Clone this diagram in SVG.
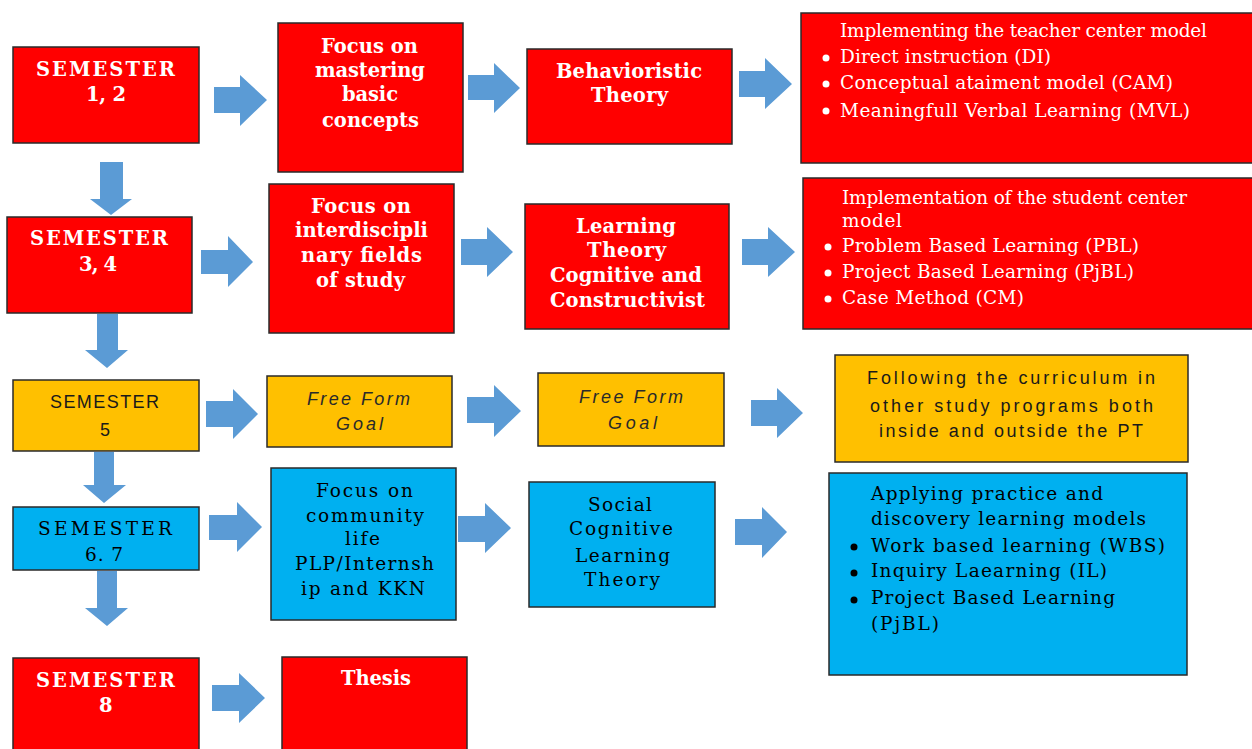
<svg xmlns="http://www.w3.org/2000/svg" width="1252" height="749" viewBox="0 0 1252 749">
<style>
.red{fill:#FF0000;stroke:#2a2a2a;stroke-width:1.5}
.yel{fill:#FFC000;stroke:#2a2a2a;stroke-width:1.5}
.blu{fill:#00B0F0;stroke:#2a2a2a;stroke-width:1.5}
.arr{fill:#5B9BD5}
.tb{font-family:"DejaVu Serif","Liberation Serif",serif;font-size:19.5px;font-weight:bold;fill:#FFFFFF}
.tw{font-family:"DejaVu Serif","Liberation Serif",serif;font-size:18.5px;fill:#FFFFFF}
.tk{font-family:"DejaVu Serif","Liberation Serif",serif;font-size:18.5px;fill:#000000}
.ty{font-family:"Liberation Sans","Open Sans",sans-serif;font-size:18px;fill:#1a1a1a}
.ti{font-family:"Liberation Sans","Open Sans",sans-serif;font-size:18px;font-style:italic;fill:#2a2a2a}
.bw{fill:#FFFFFF}
.bk{fill:#000000}
</style>
<rect width="1252" height="749" fill="#FFFFFF"/>

<g id="connectors">
<polygon class="arr" points="214,87 240,87 240,75 267,100 240,126 240,113 214,113"/>
<polygon class="arr" points="468,75 494,75 494,63 520,88 494,113 494,100 468,100"/>
<polygon class="arr" points="739,71 765,71 765,58 792,84 765,109 765,97 739,97"/>
<polygon class="arr" points="201,250 228,250 228,236 253,262 228,287 228,274 201,274"/>
<polygon class="arr" points="461,239 487,239 487,227 513,252 487,277 487,265 461,265"/>
<polygon class="arr" points="742,239 768,239 768,227 795,252 768,277 768,265 742,265"/>
<polygon class="arr" points="206,401 233,401 233,389 258,414 233,439 233,427 206,427"/>
<polygon class="arr" points="467,397 494,397 494,385 521,411 494,437 494,423 467,423"/>
<polygon class="arr" points="751,400 777,400 777,388 803,413 777,438 777,426 751,426"/>
<polygon class="arr" points="209,515 237,515 237,502 262,527 237,552 237,540 209,540"/>
<polygon class="arr" points="458,516 485,516 485,503 511,528 485,553 485,542 458,542"/>
<polygon class="arr" points="735,519 762,519 762,507 787,532 762,558 762,545 735,545"/>
<polygon class="arr" points="212,685 239,685 239,673 265,698 239,723 239,711 212,711"/>
<polygon class="arr" points="100,162 123,162 123,199 132,199 111,215 90,199 100,199"/>
<polygon class="arr" points="97,314 118,314 118,350 128,350 107,368 85,350 97,350"/>
<polygon class="arr" points="94,452 114,452 114,485 126,485 104,503 83,485 94,485"/>
<polygon class="arr" points="97,571 117,571 117,608 128,608 107,626 85,608 97,608"/>
</g>

<g id="sem12">
<rect class="red" x="13" y="47" width="186" height="96"/>
<text class="tb" x="36" y="76" textLength="139" lengthAdjust="spacing">SEMESTER</text>
<text class="tb" x="86" y="101" textLength="40" lengthAdjust="spacing">1, 2</text>
</g>
<g id="focus-basic">
<rect class="red" x="278" y="23" width="185" height="149"/>
<text class="tb" x="321" y="53" textLength="97" lengthAdjust="spacing">Focus on</text>
<text class="tb" x="315" y="77" textLength="110" lengthAdjust="spacing">mastering</text>
<text class="tb" x="342" y="101" textLength="56" lengthAdjust="spacing">basic</text>
<text class="tb" x="322" y="127" textLength="97" lengthAdjust="spacing">concepts</text>
</g>
<g id="behavioristic">
<rect class="red" x="527" y="49" width="205" height="95"/>
<text class="tb" x="556" y="78" textLength="146" lengthAdjust="spacing">Behavioristic</text>
<text class="tb" x="591" y="102" textLength="77" lengthAdjust="spacing">Theory</text>
</g>
<g id="teacher-center">
<rect class="red" x="801" y="13" width="460" height="150"/>
<text class="tw" x="840" y="37" textLength="367" lengthAdjust="spacing">Implementing the teacher center model</text>
<circle class="bw" cx="826" cy="58" r="3.5"/>
<text class="tw" x="840" y="63" textLength="211" lengthAdjust="spacing">Direct instruction (DI)</text>
<circle class="bw" cx="826" cy="84" r="3.5"/>
<text class="tw" x="840" y="89" textLength="333" lengthAdjust="spacing">Conceptual ataiment model (CAM)</text>
<circle class="bw" cx="826" cy="111" r="3.5"/>
<text class="tw" x="840" y="117" textLength="350" lengthAdjust="spacing">Meaningfull Verbal Learning (MVL)</text>
</g>

<g id="sem34">
<rect class="red" x="7" y="217" width="185" height="96"/>
<text class="tb" x="30" y="245" textLength="138" lengthAdjust="spacing">SEMESTER</text>
<text class="tb" x="79" y="271" textLength="38" lengthAdjust="spacing">3, 4</text>
</g>
<g id="focus-interdisciplinary">
<rect class="red" x="269" y="184" width="185" height="149"/>
<text class="tb" x="311" y="213" textLength="100" lengthAdjust="spacing">Focus on</text>
<text class="tb" x="295" y="237" textLength="133" lengthAdjust="spacing">interdiscipli</text>
<text class="tb" x="301" y="262" textLength="121" lengthAdjust="spacing">nary fields</text>
<text class="tb" x="316" y="287" textLength="89" lengthAdjust="spacing">of study</text>
</g>
<g id="learning-theory">
<rect class="red" x="525" y="204" width="204" height="125"/>
<text class="tb" x="576" y="233" textLength="100" lengthAdjust="spacing">Learning</text>
<text class="tb" x="587" y="257" textLength="79" lengthAdjust="spacing">Theory</text>
<text class="tb" x="550" y="282" textLength="152" lengthAdjust="spacing">Cognitive and</text>
<text class="tb" x="550" y="307" textLength="155" lengthAdjust="spacing">Constructivist</text>
</g>
<g id="student-center">
<rect class="red" x="803" y="178" width="460" height="151"/>
<text class="tw" x="842" y="204" textLength="345" lengthAdjust="spacing">Implementation of the student center</text>
<text class="tw" x="842" y="227" textLength="60" lengthAdjust="spacing">model</text>
<circle class="bw" cx="828" cy="247" r="3.5"/>
<text class="tw" x="842" y="252" textLength="297" lengthAdjust="spacing">Problem Based Learning (PBL)</text>
<circle class="bw" cx="828" cy="273" r="3.5"/>
<text class="tw" x="842" y="278" textLength="292" lengthAdjust="spacing">Project Based Learning (PjBL)</text>
<circle class="bw" cx="828" cy="299" r="3.5"/>
<text class="tw" x="842" y="304" textLength="182" lengthAdjust="spacing">Case Method (CM)</text>
</g>

<g id="sem5">
<rect class="yel" x="13" y="380" width="186" height="71"/>
<text class="ty" x="50" y="408" textLength="109" lengthAdjust="spacing">SEMESTER</text>
<text class="ty" x="100" y="436">5</text>
</g>
<g id="free-form-1">
<rect class="yel" x="267" y="376" width="185" height="71"/>
<text class="ti" x="307" y="405" textLength="103" lengthAdjust="spacing">Free Form</text>
<text class="ti" x="336" y="430" textLength="47" lengthAdjust="spacing">Goal</text>
</g>
<g id="free-form-2">
<rect class="yel" x="538" y="373" width="186" height="73"/>
<text class="ti" x="579" y="403" textLength="104" lengthAdjust="spacing">Free Form</text>
<text class="ti" x="608" y="429" textLength="49" lengthAdjust="spacing">Goal</text>
</g>
<g id="following-curriculum">
<rect class="yel" x="835" y="355" width="353" height="107"/>
<text class="ty" x="867" y="384" textLength="288" lengthAdjust="spacing">Following the curriculum in</text>
<text class="ty" x="870" y="412" textLength="283" lengthAdjust="spacing">other study programs both</text>
<text class="ty" x="879" y="437" textLength="264" lengthAdjust="spacing">inside and outside the PT</text>
</g>

<g id="sem67">
<rect class="blu" x="13" y="507" width="186" height="63"/>
<text class="tk" x="38" y="535" textLength="134" lengthAdjust="spacing">SEMESTER</text>
<text class="tk" x="85" y="561" textLength="38" lengthAdjust="spacing">6. 7</text>
</g>
<g id="focus-community">
<rect class="blu" x="271" y="468" width="185" height="152"/>
<text class="tk" x="316" y="497" textLength="97" lengthAdjust="spacing">Focus on</text>
<text class="tk" x="306" y="522" textLength="118" lengthAdjust="spacing">community</text>
<text class="tk" x="345" y="545" textLength="35" lengthAdjust="spacing">life</text>
<text class="tk" x="295" y="570" textLength="139" lengthAdjust="spacing">PLP/Internsh</text>
<text class="tk" x="301" y="595" textLength="124" lengthAdjust="spacing">ip and KKN</text>
</g>
<g id="social-cognitive">
<rect class="blu" x="529" y="482" width="186" height="125"/>
<text class="tk" x="588" y="511" textLength="64" lengthAdjust="spacing">Social</text>
<text class="tk" x="569" y="535" textLength="104" lengthAdjust="spacing">Cognitive</text>
<text class="tk" x="575" y="562" textLength="95" lengthAdjust="spacing">Learning</text>
<text class="tk" x="584" y="586" textLength="76" lengthAdjust="spacing">Theory</text>
</g>
<g id="practice-discovery">
<rect class="blu" x="829" y="473" width="358" height="202"/>
<text class="tk" x="871" y="500" textLength="232" lengthAdjust="spacing">Applying practice and</text>
<text class="tk" x="871" y="525" textLength="275" lengthAdjust="spacing">discovery learning models</text>
<circle class="bk" cx="854" cy="547" r="3.5"/>
<text class="tk" x="871" y="552" textLength="294" lengthAdjust="spacing">Work based learning (WBS)</text>
<circle class="bk" cx="854" cy="573" r="3.5"/>
<text class="tk" x="871" y="577" textLength="236" lengthAdjust="spacing">Inquiry Laearning (IL)</text>
<circle class="bk" cx="854" cy="600" r="3.5"/>
<text class="tk" x="871" y="604" textLength="244" lengthAdjust="spacing">Project Based Learning</text>
<text class="tk" x="871" y="630" textLength="68" lengthAdjust="spacing">(PjBL)</text>
</g>

<g id="sem8">
<rect class="red" x="13" y="658" width="186" height="110"/>
<text class="tb" x="36" y="687" textLength="139" lengthAdjust="spacing">SEMESTER</text>
<text class="tb" x="99" y="712">8</text>
</g>
<g id="thesis">
<rect class="red" x="282" y="657" width="185" height="110"/>
<text class="tb" x="341" y="685" textLength="70" lengthAdjust="spacing">Thesis</text>
</g>
</svg>
